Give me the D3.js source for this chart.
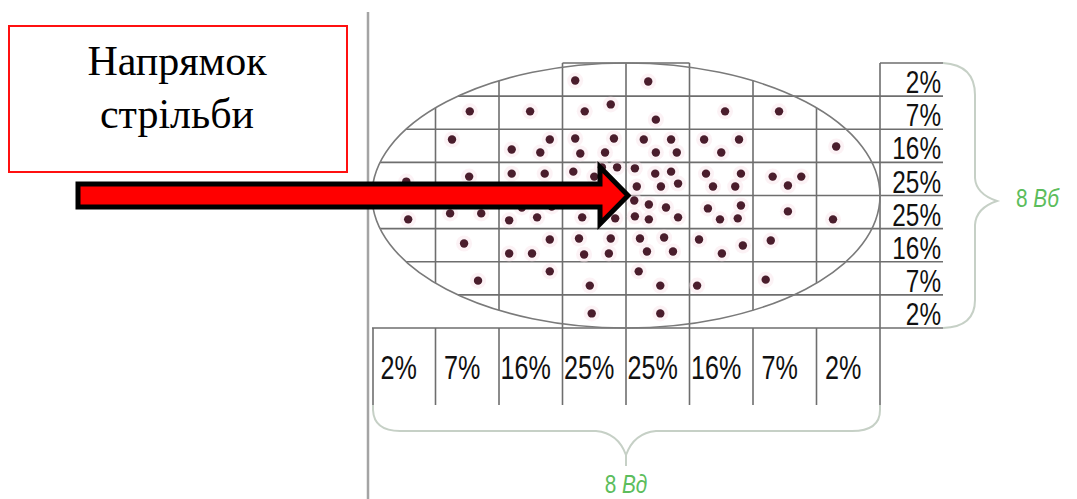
<!DOCTYPE html>
<html>
<head>
<meta charset="utf-8">
<script src="https://cdn.jsdelivr.net/npm/d3@7.9.0/dist/d3.min.js"></script>
<style>
  html, body { margin: 0; padding: 0; background: #fff; }
  svg { display: block; }
</style>
</head>
<body>
<svg id="chart" width="1077" height="499"></svg>
<script>
// percentage labels under the columns and beside the rows
const colPct = ['2%', '7%', '16%', '25%', '25%', '16%', '7%', '2%'];
const rowPct = ['2%', '7%', '16%', '25%', '25%', '16%', '7%', '2%'];

// hit positions in grid cells from the centre (x right, y up)
const hitX = [
  -0.80, -2.46, -1.51, -0.65, -0.24, -2.74, -1.20, -0.80, -0.19, -1.80,
  -1.35, -0.72, -0.33, -0.14, -0.38, -3.46, -2.47, -1.80, -1.28, -0.83,
  -0.50,  0.35,  0.47,  1.56,  2.41,  0.28,  0.71,  0.47,  0.80,  1.23,
   1.78,  1.50,  3.31,  0.14,  0.46,  0.71,  0.82,  0.55,  0.17,  1.26,
   1.81,  1.37,  1.72,  2.31,  2.76,  2.55, -3.43, -2.77, -2.28, -1.84,
  -1.40, -1.64, -1.17, -0.69, -0.17, -2.55, -1.20, -1.84, -1.48, -0.74,
  -0.24, -0.66, -0.27, -2.33, -1.20, -0.57, -0.54,  0.13,  0.36,  0.63,
   0.14,  0.36,  0.82,  1.29,  1.81,  1.48,  1.76,  2.55,  3.26,  0.22,
   0.60,  0.33,  0.74,  1.15,  1.84,  1.51,  2.28,  0.20,  0.54,  1.12,
   2.20,  0.54
];
const hitY = [
   3.47,  2.54,  2.54,  2.54,  2.75,  1.69,  1.69,  1.72,  1.72,  1.39,
   1.30,  1.27,  1.30,  0.85,  0.85,  0.42,  0.57,  0.66,  0.66,  0.72,
   0.57,  3.44,  2.29,  2.54,  2.54,  1.69,  1.69,  1.30,  1.30,  1.69,
   1.69,  1.30,  1.48,  0.82,  0.66,  0.72,  0.36,  0.27,  0.27,  0.66,
   0.66,  0.27,  0.27,  0.57,  0.57,  0.30, -0.72, -0.54, -0.54, -0.75,
  -0.66, -0.36, -0.33, -0.66, -0.69, -1.45, -1.33, -1.75, -1.75, -1.30,
  -1.30, -1.78, -1.75, -2.57, -2.29, -2.72, -3.56, -0.15, -0.27, -0.36,
  -0.63, -0.72, -0.66, -0.39, -0.30, -0.72, -0.69, -0.48, -0.72, -1.30,
  -1.27, -1.69, -1.69, -1.33, -1.51, -1.75, -1.36, -2.29, -2.72, -2.72,
  -2.54, -3.56
];

const hits = hitX.map((d, i) => ({ x: d, y: hitY[i] }));

const svg = d3.select('#chart');

// scales: 8 x 8 cells of the dispersion grid
const x = d3.scaleLinear().domain([-4, 4]).range([372, 880]);
const y = d3.scaleLinear().domain([-4, 4]).range([328, 63]);

const cx = x(0), cy = y(0);
const rx = x(4) - x(0), ry = y(0) - y(4);
const rightEdge = x(4) + 63;     // right table column
const tableBottom = 405;         // bottom table row

const gridColor = '#6e6e6e';

// long vertical rule on the left
svg.append('line')
  .attr('x1', 368).attr('x2', 368).attr('y1', 12).attr('y2', 499)
  .attr('stroke', '#a4a4a4').attr('stroke-width', 2.5);

const grid = svg.append('g')
  .attr('stroke', gridColor)
  .attr('stroke-width', 1.6)
  .attr('fill', 'none');

// vertical grid lines, cut by the ellipse except the middle ones
d3.range(-3, 4).forEach(i => {
  const px = x(i);
  const h = ry * Math.sqrt(Math.max(0, 1 - ((px - cx) / rx) ** 2));
  const full = Math.abs(i) <= 1;
  grid.append('line')
    .attr('x1', px).attr('x2', px)
    .attr('y1', full ? y(4) : cy - h)
    .attr('y2', full ? y(-4) : cy + h);
});

// horizontal grid lines, from the ellipse to the right table
d3.range(-3, 4).forEach(j => {
  const py = y(j);
  const w = rx * Math.sqrt(Math.max(0, 1 - ((py - cy) / ry) ** 2));
  grid.append('line')
    .attr('x1', cx - w).attr('x2', x(4))
    .attr('y1', py).attr('y2', py);
});

// top edge of the central cells and the bottom border
grid.append('line')
  .attr('x1', x(-1)).attr('x2', x(1)).attr('y1', y(4)).attr('y2', y(4));
grid.append('line')
  .attr('x1', x(-4)).attr('x2', x(4)).attr('y1', y(-4)).attr('y2', y(-4));

// right percentage column
d3.range(-4, 5).forEach(j => {
  grid.append('line')
    .attr('x1', x(4)).attr('x2', rightEdge)
    .attr('y1', y(j)).attr('y2', y(j));
});
grid.append('line')
  .attr('x1', x(4)).attr('x2', x(4)).attr('y1', y(4)).attr('y2', tableBottom);

// bottom percentage row separators
d3.range(-4, 4).forEach(i => {
  grid.append('line')
    .attr('x1', x(i) + (i === -4 ? 1 : 0)).attr('x2', x(i) + (i === -4 ? 1 : 0))
    .attr('y1', y(-4)).attr('y2', tableBottom);
});

// dispersion ellipse
svg.append('ellipse')
  .attr('cx', cx).attr('cy', cy)
  .attr('rx', rx).attr('ry', ry)
  .attr('fill', 'none')
  .attr('stroke', '#7a7a7a')
  .attr('stroke-width', 1.6);

// hits: faint pink halo then the dark dot
svg.append('g')
  .selectAll('circle')
  .data(hits)
  .join('circle')
  .attr('cx', d => x(d.x))
  .attr('cy', d => y(d.y))
  .attr('r', 8)
  .attr('fill', '#f9e3e8')
  .attr('opacity', 0.45);

svg.append('g')
  .selectAll('circle')
  .data(hits)
  .join('circle')
  .attr('cx', d => x(d.x))
  .attr('cy', d => y(d.y))
  .attr('r', 4.2)
  .attr('fill', '#4a1d2c');

// row labels on the right
const rowLab = svg.append('g');
rowPct.forEach((t, k) => {
  rowLab.append('g')
    .attr('transform', `translate(${rightEdge - 2},${y(3 - k) - 3}) scale(0.76,1)`)
    .append('text')
    .attr('text-anchor', 'end')
    .attr('font-family', 'Liberation Sans, Arial, sans-serif')
    .attr('font-size', 32)
    .attr('fill', '#111')
    .text(t);
});

// column labels below
const colLab = svg.append('g');
colPct.forEach((t, k) => {
  const mid = (x(k - 4) + x(k - 3)) / 2 - 5;
  colLab.append('g')
    .attr('transform', `translate(${mid},379) scale(0.74,1)`)
    .append('text')
    .attr('text-anchor', 'middle')
    .attr('font-family', 'Liberation Sans, Arial, sans-serif')
    .attr('font-size', 34)
    .attr('fill', '#111')
    .text(t);
});

// braces
const braceColor = '#c6d0c6';
svg.append('path')
  .attr('d', `M${rightEdge},${y(4)} Q975,${y(4) + 2} 975,95 L975,178 Q976,194 997,201
              Q976,208 975,225 L975,300 Q975,${y(-4) - 1} ${rightEdge},${y(-4)}`)
  .attr('fill', 'none').attr('stroke', braceColor).attr('stroke-width', 2);

svg.append('path')
  .attr('d', `M${x(-4) + 1},${tableBottom} L${x(-4) + 1},410 Q${x(-4) + 2},431 400,431
              L596,431 Q618,433 ${cx},455 Q634,433 656,431 L852,431
              Q${x(4)},431 ${x(4)},410 L${x(4)},${tableBottom} M${cx},455 L${cx},466`)
  .attr('fill', 'none').attr('stroke', braceColor).attr('stroke-width', 2);

// green annotations
function greenLabel(px, py, anchor, word) {
  const t = svg.append('g')
    .attr('transform', `translate(${px},${py}) scale(0.8,1)`)
    .append('text')
    .attr('text-anchor', anchor)
    .attr('font-family', 'Liberation Sans, Arial, sans-serif')
    .attr('font-size', 26)
    .attr('fill', '#5cbd5c');
  t.append('tspan').text('8 ');
  t.append('tspan').attr('font-style', 'italic').text(word);
  return t;
}
greenLabel(1016, 207, 'start', 'Вб');
greenLabel(cx, 493, 'middle', 'Вд');

// direction box
svg.append('rect')
  .attr('x', 9).attr('y', 26)
  .attr('width', 338).attr('height', 146)
  .attr('fill', '#fff')
  .attr('stroke', '#ff1010')
  .attr('stroke-width', 2);

svg.selectAll('text.box')
  .data(['Напрямок', 'стрільби'])
  .join('text')
  .attr('class', 'box')
  .attr('x', 177)
  .attr('y', (d, i) => 75 + i * 53)
  .attr('text-anchor', 'middle')
  .attr('font-family', 'Liberation Serif, Times New Roman, serif')
  .attr('font-size', 42)
  .attr('fill', '#000')
  .text(d => d);

// firing direction arrow
const tipX = cx + 2, headX = cx - 26;
svg.append('path')
  .attr('d', `M78,${cy - 11.5} L${headX},${cy - 11.5} L${headX},${cy - 28.5} L${tipX},${cy}
              L${headX},${cy + 28.5} L${headX},${cy + 11.5} L78,${cy + 11.5} Z`)
  .attr('fill', '#ff0000')
  .attr('stroke', '#000')
  .attr('stroke-width', 5)
  .attr('stroke-linejoin', 'miter');
</script>
</body>
</html>
